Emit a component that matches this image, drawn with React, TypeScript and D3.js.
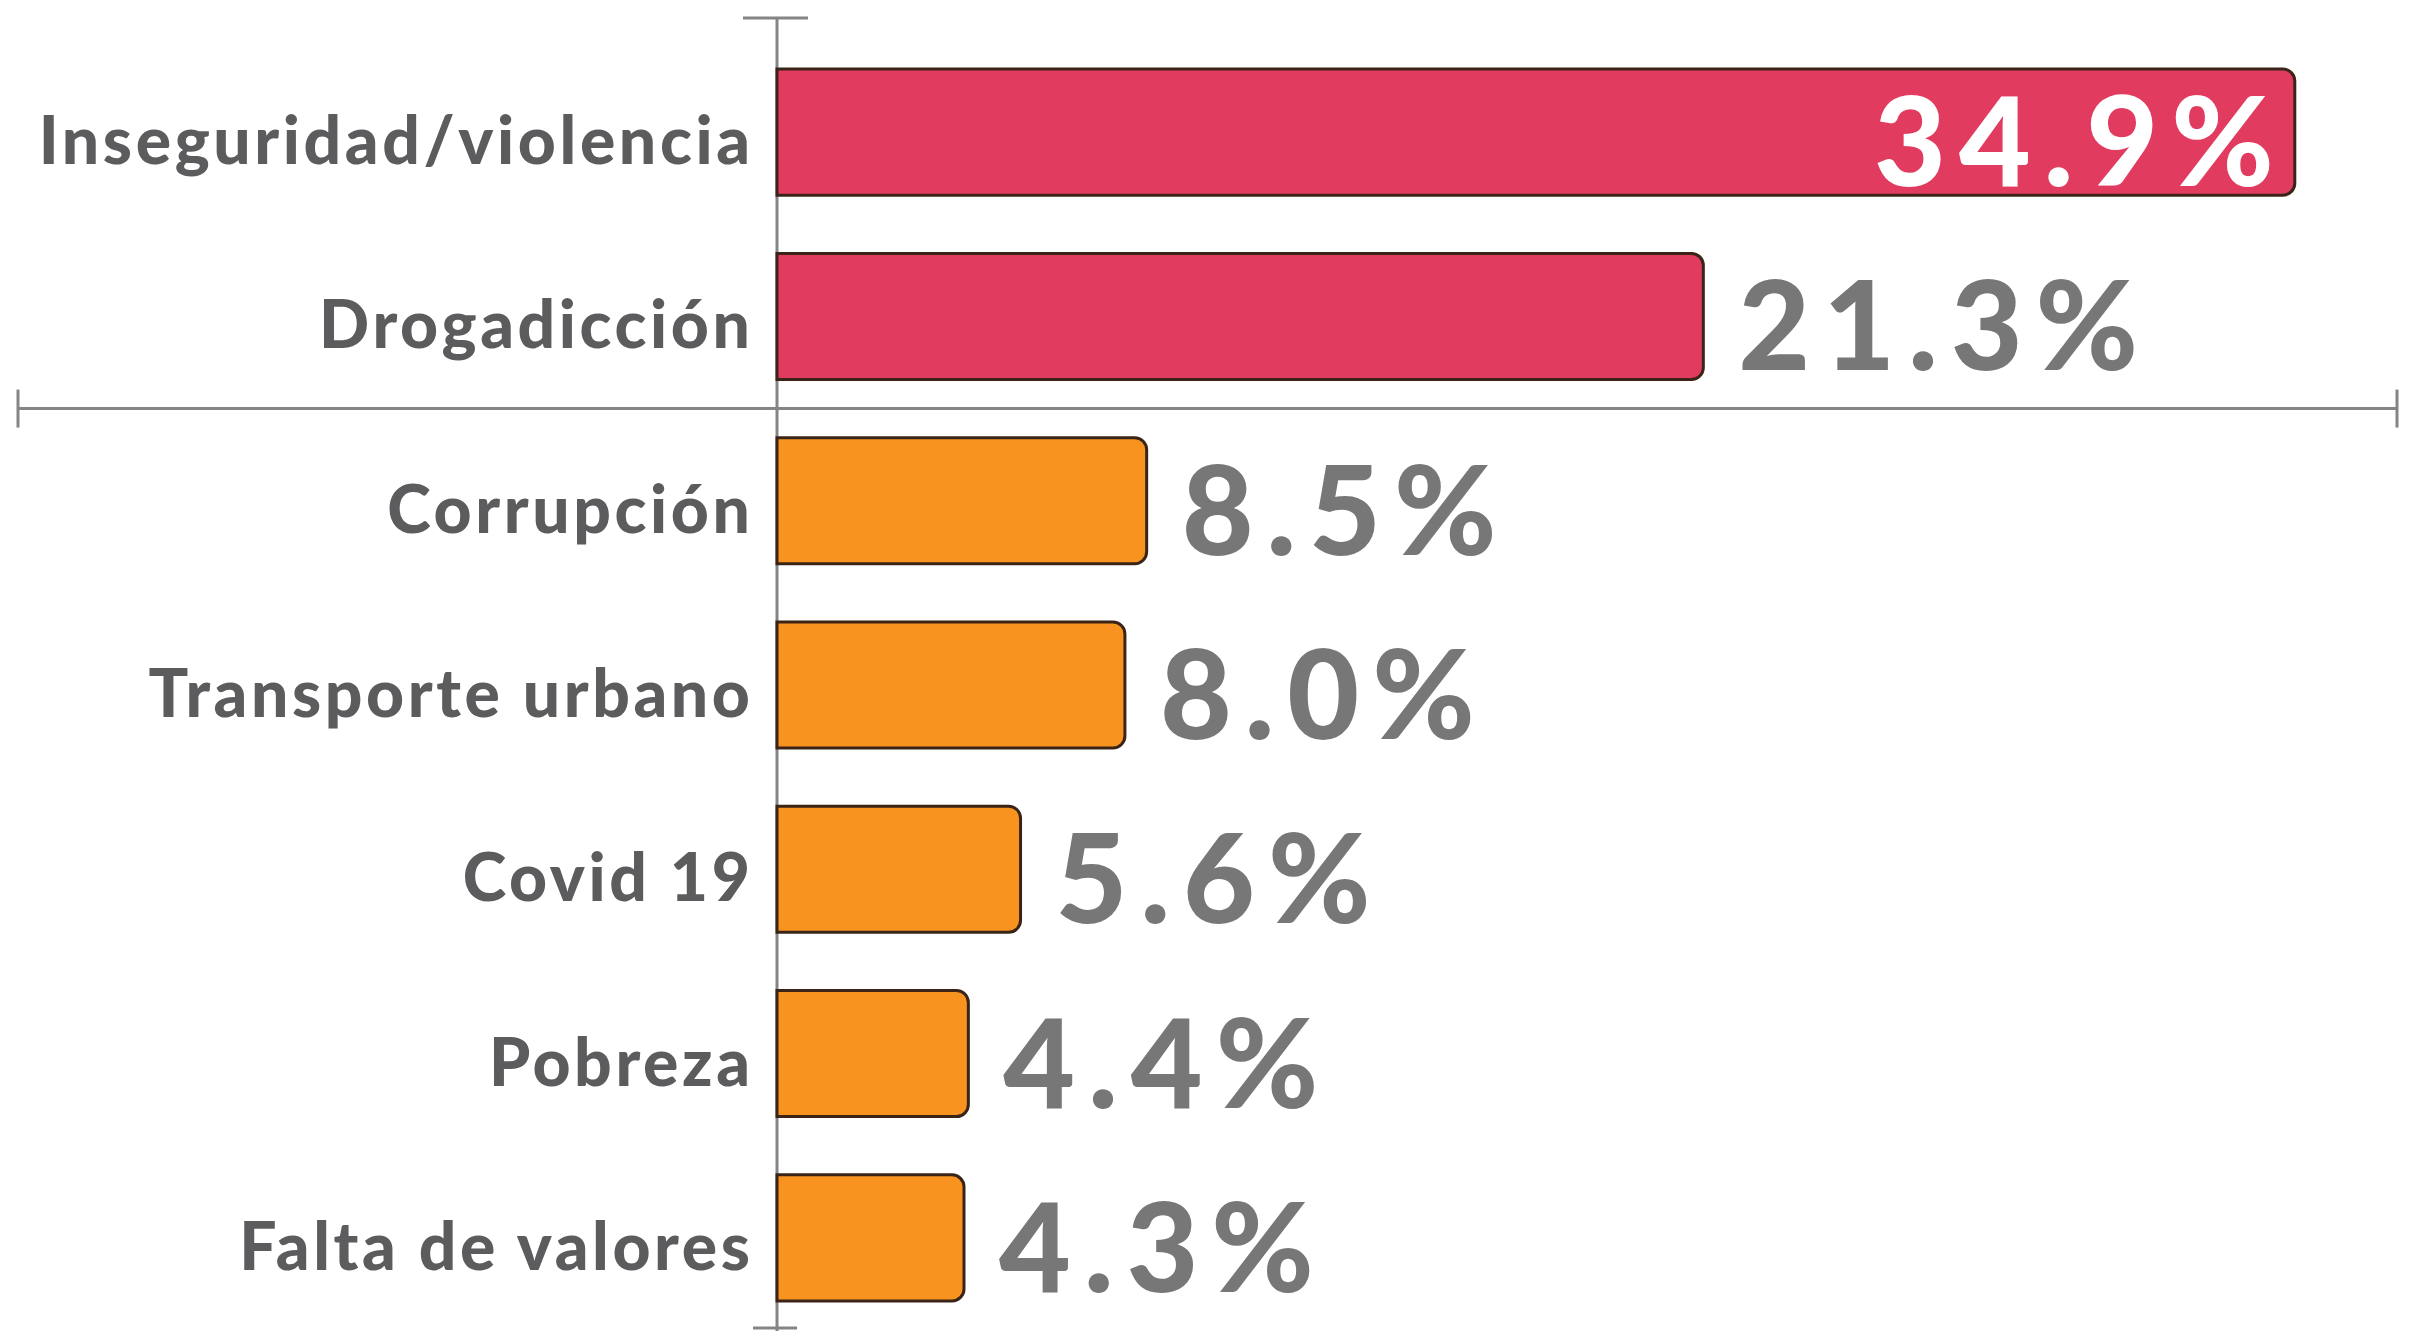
import React from "react";
import * as d3 from "d3";

const categories = [
  "Inseguridad/violencia",
  "Drogadicción",
  "Corrupción",
  "Transporte urbano",
  "Covid 19",
  "Pobreza",
  "Falta de valores",
];
const values = [34.9, 21.3, 8.5, 8.0, 5.6, 4.4, 4.3];
const groups = ["top", "top", "rest", "rest", "rest", "rest", "rest"];
const valueLabels = ["34.9%", "21.3%", "8.5%", "8.0%", "5.6%", "4.4%", "4.3%"];

const W = 2412;
const H = 1331;

export default function App() {
  const x = d3.scaleLinear().domain([0, 37.25]).range([777, 2397]);
  const y = d3
    .scaleBand<string>()
    .domain(categories)
    .range([40, 1330])
    .paddingInner(0.316)
    .paddingOuter(0.158);
  const color = d3
    .scaleOrdinal<string, string>()
    .domain(["top", "rest"])
    .range(["#E23B60", "#F7931E"]);

  const bw = y.bandwidth();
  const x0 = x(0);
  const r = 12;

  const barPath = (v: number, cat: string) => {
    const p = d3.path();
    const y0 = y(cat)!;
    const x1 = x(v);
    p.moveTo(x0, y0);
    p.lineTo(x1 - r, y0);
    p.arcTo(x1, y0, x1, y0 + r, r);
    p.lineTo(x1, y0 + bw - r);
    p.arcTo(x1, y0 + bw, x1 - r, y0 + bw, r);
    p.lineTo(x0, y0 + bw);
    p.closePath();
    return p.toString();
  };

  const sepY = (y(categories[1])! + bw + y(categories[2])!) / 2;
  const axisColor = "#858585";
  const labSp = 3.6;
  const valSp = 13;

  return (
    <svg
      width={W}
      height={H}
      style={{ position: "absolute", left: 0, top: 0, display: "block", background: "#fff" }}
      fontFamily="Lato, 'Open Sans', sans-serif"
    >
      {/* vertical axis */}
      <line x1={x0} x2={x0} y1={18} y2={H} stroke={axisColor} strokeWidth={3} />
      <line x1={x0 - 34} x2={x0 + 31} y1={18} y2={18} stroke={axisColor} strokeWidth={3} />
      <line x1={x0 - 24} x2={x0 + 20} y1={1328} y2={1328} stroke={axisColor} strokeWidth={3} />
      {/* horizontal separator axis */}
      <line x1={18} x2={2397} y1={sepY} y2={sepY} stroke={axisColor} strokeWidth={3} />
      <line x1={18} x2={18} y1={sepY - 19} y2={sepY + 19} stroke={axisColor} strokeWidth={3} />
      <line x1={2397} x2={2397} y1={sepY - 19} y2={sepY + 19} stroke={axisColor} strokeWidth={3} />

      {categories.map((c, i) => {
        const cy = y(c)! + bw / 2;
        const inside = i === 0;
        return (
          <g key={c}>
            <path
              d={barPath(values[i], c)}
              fill={color(groups[i])}
              stroke="#3a2418"
              strokeWidth={3}
            />
            <text
              x={750 + labSp}
              y={cy + 32}
              textAnchor="end"
              fontSize={66}
              fontWeight={900}
              letterSpacing={labSp}
              fill="#5c5c5e"
            >
              {c}
            </text>
            <text
              x={inside ? x(values[i]) - 21 + valSp : x(values[i]) + 35}
              y={cy + 54}
              textAnchor={inside ? "end" : "start"}
              fontSize={124}
              fontWeight={900}
              letterSpacing={valSp}
              fill={inside ? "#ffffff" : "#777777"}
            >
              {valueLabels[i]}
            </text>
          </g>
        );
      })}
    </svg>
  );
}
